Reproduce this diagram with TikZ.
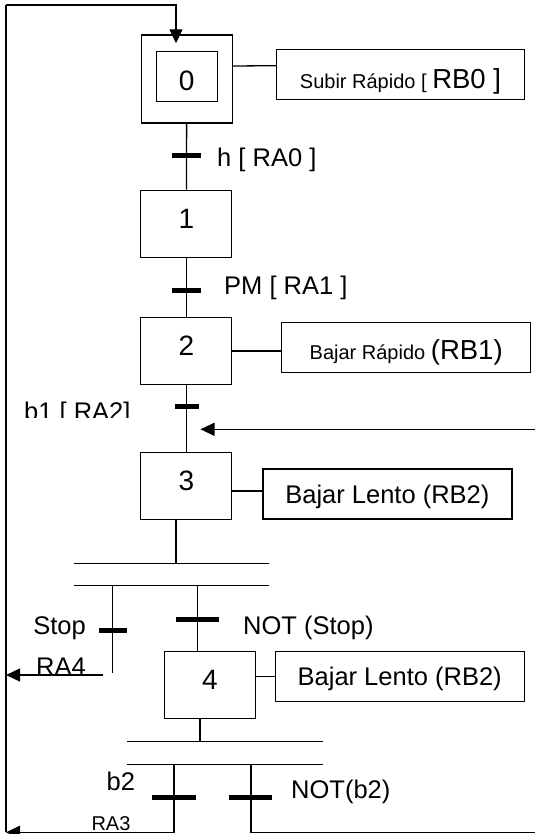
\documentclass[tikz,border=0pt]{standalone}
\usepackage{fontspec}
\setmainfont{Liberation Sans}
\usetikzlibrary{arrows.meta}

\newcommand\smalltext{\fontsize{20}{24}\selectfont}
\newcommand\largetext{\fontsize{27.5}{33}\selectfont}

\tikzstyle{stepbox}=[draw, line width=1.3pt, minimum width=91pt, minimum height=67pt, inner sep=0pt, font=\fontsize{28}{33}\selectfont, text height=20pt, text depth=11pt]
\tikzstyle{actbox}=[draw, line width=1.3pt, minimum width=249pt, minimum height=50pt, inner sep=0pt, text height=25pt, text depth=6pt]
\tikzstyle{tbar}=[fill, minimum width=29pt, minimum height=5pt, inner sep=0pt]
\tikzstyle{lbl}=[inner sep=0pt]
\tikzstyle{wire}=[line width=1.3pt]
\tikzstyle{sync}=[line width=1pt]
\tikzstyle{arrow}=[line width=1.3pt, -{Triangle[length=14pt, width=13pt]}]

\begin{document}
\begin{tikzpicture}[x=1pt, y=-1pt, font=\fontsize{25.5}{30}\selectfont]
      \useasboundingbox (0,0) rectangle (535,834);

      % etapas
      \node[stepbox, minimum height=88pt] (s0) at (186.8,79) {};
      \node[stepbox, minimum width=61pt, minimum height=50pt, text height=30pt, text depth=3pt] (s0in) at (186.7,76.7) {0};
      \node[stepbox] (s1) at (186.3,223.8) {1};
      \node[stepbox] (s2) at (186.3,351) {2};
      \node[stepbox] (s3) at (186.3,485.7) {3};
      \node[stepbox] (s4) at (210,684.7) {4};

      % acciones
      \node[actbox, minimum width=248pt, text height=34pt] (a0) at (400.5,74.2) {\smalltext Subir Rápido [ \largetext RB0 ]};
      \node[actbox, text height=29pt] (a2) at (406.2,347.5) {\smalltext Bajar Rápido \largetext(RB1)};
      \node[actbox] (a3) at (387.4,494) {Bajar Lento (RB2)};
      \node[actbox] (a4) at (399.7,676.3) {Bajar Lento (RB2)};

      % transiciones
      \node[tbar] (t0) at (186.3,156) {};
      \node[lbl, anchor=base west] (c0) at (217,166.7) {h [ RA0 ]};
      \node[tbar] (t1) at (186.3,290) {};
      \node[lbl, anchor=base west] (c1) at (224,294) {PM [ RA1 ]};
      \node[tbar, minimum width=24pt] (t2) at (187,406) {};
      \begin{scope}
        \clip (0,395) rectangle (170,417);
        \node[lbl, anchor=base west] (c2) at (24,420) {b1 [ RA2]};
      \end{scope}
      \node[tbar, minimum width=28pt] (t3a) at (112.6,630) {};
      \node[lbl, anchor=base east] (c3a) at (86,634) {Stop};
      \node[tbar, minimum width=43pt] (t3b) at (197.6,619) {};
      \node[lbl, anchor=base west] (c3b) at (243,634) {NOT (Stop)};
      \node[tbar, minimum width=44pt] (t4a) at (174,797.7) {};
      \node[lbl, anchor=base] (c4a) at (120.8,790) {b2};
      \node[tbar, minimum width=43pt] (t4b) at (250.9,797.7) {};
      \node[lbl, anchor=base west] (c4b) at (291,798) {NOT(b2)};
      \node[lbl, anchor=base] (r4) at (61,675) {RA4};
      \node[lbl, anchor=base, font=\smalltext] (r3) at (111,830) {RA3};

      \coordinate (lt) at (6,5);
      \coordinate (lb) at (6,832.3);
      \coordinate (in0) at (176,43.3);
      \coordinate (ext) at (535,429.3);
      \coordinate (ext0) at (200.5,429.3);
      \coordinate (d3) at (176,563.3);
      \coordinate (d3l) at (74,563.3);
      \coordinate (d3r) at (269,563.3);
      \coordinate (e3l) at (74,585.7);
      \coordinate (e3r) at (269,585.7);
      \coordinate (f3) at (112.6,673);
      \coordinate (r4s) at (103.4,675);
      \coordinate (d4) at (200,741.7);
      \coordinate (d4l) at (127,741.7);
      \coordinate (d4r) at (322.5,741.7);
      \coordinate (e4l) at (127,764.3);
      \coordinate (e4r) at (322.5,764.3);
      \coordinate (rb) at (535,832.3);

      \draw[wire] (lb) -- (lt);
      \draw[arrow] (lt) -| (in0);
      \draw[wire] (s0) -- (s1);
      \draw[wire] (s1) -- (s2);
      \draw[wire] (s2) -- (s3);
      \draw[arrow] (ext) -- (ext0);

      \draw[wire] ([yshift=13pt]s0.east) -- ([yshift=8.5pt]a0.west);
      \draw[wire] (s2) -- (s2 -| a2.west);
      \draw[wire] ([yshift=-5.3pt]s3.east) -- ([yshift=3pt]a3.west);
      \draw[wire] (a4.west -| s4.east) -- (a4.west);

      \draw[wire] (s3.south -| d3) -- (d3);
      \draw[sync] (d3l) -- (d3r);
      \draw[sync] (e3l) -- (e3r);
      \draw[wire] (f3 |- e3l) -- (f3);
      \draw[wire] (t3b |- e3l) -- (t3b |- s4.north);
      \draw[arrow] (r4s) -- (r4s -| lt);

      \draw[wire] (s4.south -| d4) -- (d4);
      \draw[sync] (d4l) -- (d4r);
      \draw[sync] (e4l) -- (e4r);
      \draw[arrow] (t4a |- e4l) |- (lb);
      \draw[wire] (t4b |- e4l) |- (rb);
    \end{tikzpicture}
\end{document}
